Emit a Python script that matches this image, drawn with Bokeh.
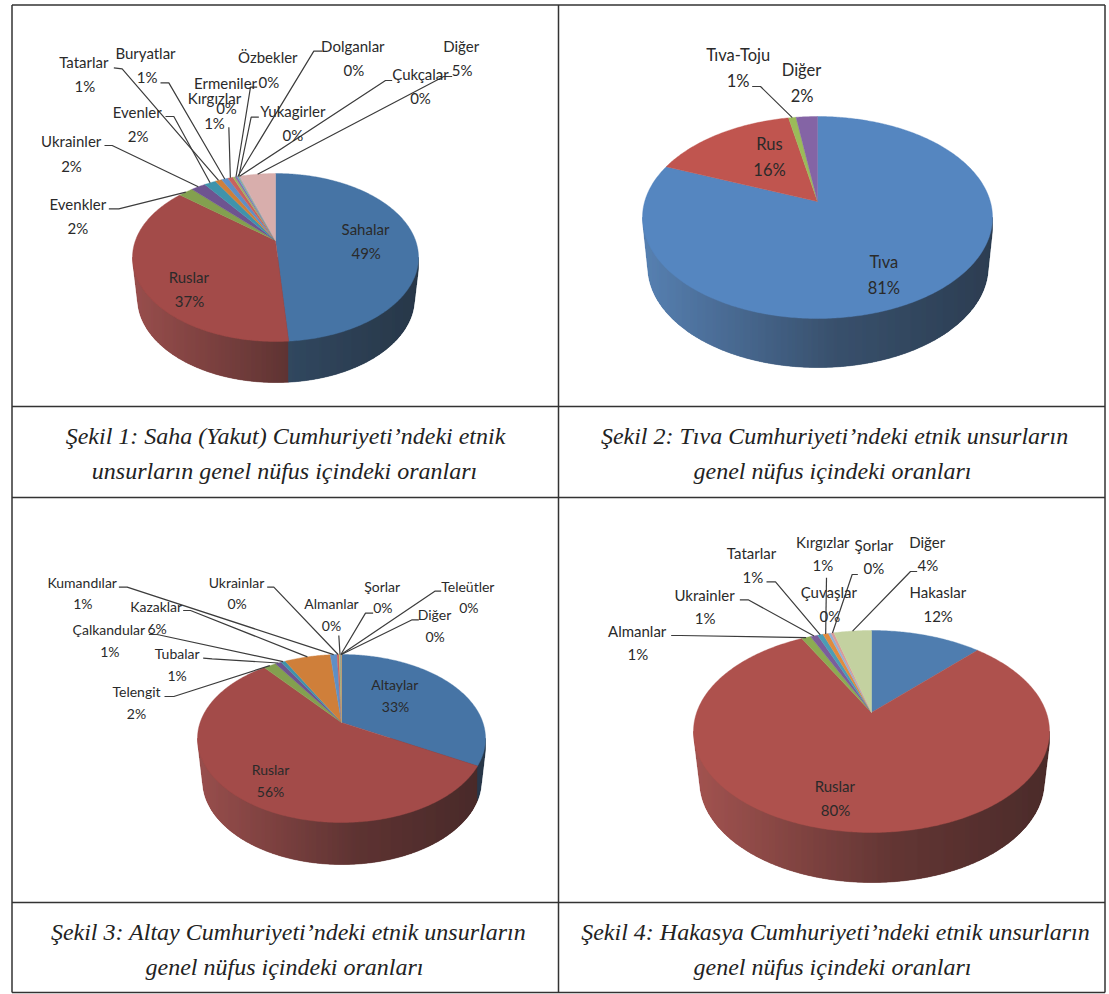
import math

import numpy as np
from bokeh.core.properties import value
from bokeh.embed import file_html
from bokeh.models import ColumnDataSource, Range1d
from bokeh.plotting import figure
from bokeh.resources import INLINE

# Population shares (percent), clockwise from twelve o'clock.
SAHA_NAMES = ["Sahalar", "Ruslar", "Evenkler", "Ukrainler", "Evenler", "Tatarlar", "Buryatlar",
              "Kırgızlar", "Ermeniler", "Özbekler", "Dolganlar", "Yukagirler", "Çukçalar", "Diğer"]
SAHA_VALUES = [48.8, 37.2, 2.0, 2.0, 1.6, 0.9, 0.9, 0.7, 0.3, 0.3, 0.2, 0.1, 0.1, 4.9]

TIVA_NAMES = ["Tıva", "Rus", "Tıva-Toju", "Diğer"]
TIVA_VALUES = [81.1, 15.8, 0.8, 2.3]

ALTAY_NAMES = ["Altaylar", "Ruslar", "Telengit", "Tubalar", "Çalkandular", "Kazaklar", "Kumandılar",
               "Ukrainlar", "Almanlar", "Şorlar", "Teleütler", "Diğer"]
ALTAY_VALUES = [33.1, 56.1, 1.7, 0.8, 0.6, 6.2, 0.9, 0.3, 0.2, 0.04, 0.03, 0.03]

HAKAS_NAMES = ["Hakaslar", "Ruslar", "Almanlar", "Ukrainler", "Tatarlar", "Kırgızlar", "Çuvaşlar",
               "Şorlar", "Diğer"]
HAKAS_VALUES = [12.1, 80.2, 1.0, 0.8, 0.6, 0.6, 0.3, 0.3, 4.1]

CAPTIONS = [
    ["Şekil 1: Saha (Yakut) Cumhuriyeti’ndeki etnik", "unsurların genel nüfus içindeki oranları"],
    ["Şekil 2: Tıva Cumhuriyeti’ndeki etnik unsurların", "genel nüfus içindeki oranları"],
    ["Şekil 3: Altay Cumhuriyeti’ndeki etnik unsurların", "genel nüfus içindeki oranları"],
    ["Şekil 4: Hakasya Cumhuriyeti’ndeki etnik unsurların", "genel nüfus içindeki oranları"],
]

# Slice colours for each pie.
SAHA_COLORS = ["#4674a5", "#a34b49", "#83a04f", "#6e5490", "#3f93ab", "#cf7f3a", "#5f8fc6",
               "#c9625e", "#9db85f", "#8a72ab", "#5aaec6", "#e09a55", "#8fb0d8", "#d8aeac"]
TIVA_COLORS = ["#5586c0", "#c0554f", "#9bbb59", "#8464a5"]
ALTAY_COLORS = ["#4674a5", "#a34b49", "#83a04f", "#6e5490", "#3f93ab", "#cf7f3a", "#5f8fc6",
                "#c9625e", "#b5cc5f", "#8a72ab", "#5aaec6", "#e09a55"]
HAKAS_COLORS = ["#4f7daf", "#ae514d", "#8cab52", "#7b5d9b", "#4a9db5", "#e08b3e", "#8fb0d8",
                "#d99a98", "#c3d1a0"]

# Tilted-disc geometry of each pie, in page pixels.
DISCS = {
    "saha":  dict(cx=275, cy=240, top=173, bottom=341, half=143, depth=41, squeeze=0.965),
    "tiva":  dict(cx=817, cy=201, top=116, bottom=318, half=175, depth=49, squeeze=0.97),
    "altay": dict(cx=341, cy=722, top=654, bottom=822, half=144, depth=42, squeeze=0.965),
    "hakas": dict(cx=871, cy=712, top=630, bottom=832, half=178, depth=50, squeeze=0.965),
}

# Label layout, in thirds of a pixel from each panel's origin:
# slice index -> (name x, name y, percent x, percent y, leader knee points or None).
SAHA_ORIGIN = (20, 20)
SAHA_LAYOUT = {
    0: (1035, 625, 1037, 698, None),
    1: (505, 768, 507, 840, None),
    2: (172, 550, 172, 622, [(265, 565), (295, 565)]),
    3: (152, 360, 153, 435, [(252, 375), (275, 375)]),
    4: (350, 275, 353, 347, [(435, 288), (460, 288)]),
    5: (190, 125, 193, 197, [(280, 142), (305, 145)]),
    6: (375, 97, 380, 170, [(420, 187), (445, 187)]),
    7: (582, 232, 582, 307, [(625, 320)]),
    8: (615, 187, 618, 262, None),
    9: (742, 110, 745, 183, [(710, 200), (690, 200)]),
    10: (997, 75, 1000, 148, [(905, 92), (880, 92)]),
    11: (817, 270, 817, 343, [(715, 290), (692, 290)]),
    12: (1200, 160, 1200, 233, [(1115, 180), (1095, 180)]),
    13: (1322, 75, 1325, 148, [(1295, 168), (1270, 168)]),
}

TIVA_ORIGIN = (620, 30)
TIVA_LAYOUT = {
    0: (790, 695, 790, 772, None),
    1: (447, 340, 447, 418, None),
    2: (353, 72, 353, 150, [(395, 168), (420, 168)]),
    3: (543, 118, 545, 197, None),
}

ALTAY_ORIGIN = (20, 560)
ALTAY_LAYOUT = {
    0: (1123, 373, 1125, 437, None),
    1: (750, 628, 750, 693, None),
    2: (348, 393, 348, 458, [(432, 408), (460, 408)]),
    3: (470, 280, 470, 345, [(548, 293), (575, 295)]),
    4: (265, 208, 268, 272, [(385, 222), (410, 222)]),
    5: (407, 138, 410, 205, [(488, 150), (510, 150)]),
    6: (185, 65, 187, 130, [(295, 80), (320, 80)]),
    7: (648, 65, 650, 130, [(740, 80), (760, 80)]),
    8: (933, 130, 933, 195, [(955, 225)]),
    9: (1085, 78, 1087, 142, [(1058, 158), (1035, 158)]),
    10: (1342, 78, 1345, 142, [(1262, 92), (1243, 92)]),
    11: (1242, 163, 1244, 228, [(1195, 178), (1175, 178)]),
}

HAKAS_ORIGIN = (580, 520)
HAKAS_LAYOUT = {
    0: (1072, 213, 1073, 285, None),
    1: (763, 797, 765, 867, None),
    2: (170, 330, 172, 400, [(272, 345), (300, 345)]),
    3: (372, 223, 374, 293, [(478, 238), (503, 238)]),
    4: (513, 98, 517, 170, [(558, 184), (585, 184)]),
    5: (727, 63, 727, 133, [(738, 172)]),
    6: (745, 213, 748, 285, None),
    7: (880, 73, 880, 143, [(832, 162), (815, 162)]),
    8: (1040, 63, 1042, 133, [(1010, 153), (990, 153)]),
}

# Table rules and caption positions, in page pixels: each caption has (line 1 x, line 2 x, y).
RULE_X = [11.5, 558, 1104.5]
RULE_Y = [4.5, 406, 497, 902, 992]
CAPTION_CENTERS = [(285, 284, 435), (834, 832, 435), (288, 284, 931), (835, 832, 931)]
CAPTION_LEADING = 35

# Brightness of the side wall from its left edge to its right edge.
WALL_STOPS = [0.0, 0.55, 1.0]
WALL_SHADE = [0.90, 0.52, 0.37]

LABEL_FONT = "Lato"
LABEL_COLOR = "#2a2a2a"
CAPTION_FONT = "Liberation Serif"
CAPTION_SIZE = "24px"


def disc_projection(disc):
    """Perspective view of the pie's top face; theta runs clockwise from twelve o'clock."""
    back = disc["cy"] - disc["top"]
    front = disc["bottom"] - disc["cy"]
    k = (front - back) / (front + back)
    a = 2 * back * front / (front + back)
    r = disc["half"] * math.sqrt(1 - k * k)

    def project(theta):
        theta = np.asarray(theta, dtype=float)
        w = 1 + k * np.cos(theta)
        return disc["cx"] + r * np.sin(theta) / w, disc["cy"] - a * np.cos(theta) / w

    return project


def shaded(color, factor):
    r, g, b = (int(color[i:i + 2], 16) for i in (1, 3, 5))
    return f"#{int(r * factor):02x}{int(g * factor):02x}{int(b * factor):02x}"


def draw_wall(p, disc, project, edges, colors):
    """Side wall as vertical columns, each tinted by its horizontal position."""
    thetas = np.linspace(0, 2 * math.pi, 2881)
    tx, ty = project(thetas)
    right, left = int(np.argmax(tx)), int(np.argmin(tx))
    rim_theta = thetas[right:left + 1]
    rim_x = tx[right:left + 1]
    rim_y = ty[right:left + 1]

    # Lower outline of the wall: the lowest point reached at each column boundary.
    sweep = np.linspace(0, 1, 41)
    low_x = disc["cx"] + (rim_x - disc["cx"]) * (1 - (1 - disc["squeeze"]) * sweep[:, None])
    low_y = rim_y + disc["depth"] * sweep[:, None]
    x_min, x_max = float(rim_x.min()), float(rim_x.max())
    columns = np.arange(math.ceil(x_min), math.floor(x_max) + 1, dtype=float)
    columns = np.concatenate(([x_min], columns, [x_max]))
    floor = np.full(len(columns), -np.inf)
    bins = np.searchsorted(columns, low_x.ravel())
    bins = np.clip(bins, 0, len(columns) - 1)
    np.maximum.at(floor, bins, low_y.ravel())
    seen = np.isfinite(floor)
    floor = np.interp(columns, columns[seen], floor[seen])

    mid_y = (disc["top"] + disc["bottom"]) / 2
    width = x_max - x_min
    xs, ys, fills = [], [], []
    for i in range(len(columns) - 1):
        a, b = float(columns[i]), float(columns[i + 1])
        centre = (a + b) / 2
        theta = float(np.interp(centre, rim_x[::-1], rim_theta[::-1]))
        idx = min(int(np.searchsorted(edges, theta, side="right")) - 1, len(colors) - 1)
        fills.append(shaded(colors[idx], float(np.interp((centre - x_min) / width, WALL_STOPS, WALL_SHADE))))
        xs.append([a, b, b, a])
        ys.append([mid_y, mid_y, float(floor[i + 1]), float(floor[i])])
    p.patches(xs, ys, fill_color=fills, line_color=fills, line_width=0.5)


def draw_pie(p, disc, names, values, colors, origin, layout, label_size):
    project = disc_projection(disc)
    edges = np.cumsum([0.0] + list(values)) / sum(values) * 2 * math.pi

    draw_wall(p, disc, project, edges, colors)

    # Top face.
    xs, ys = [], []
    for start, stop in zip(edges[:-1], edges[1:]):
        arc = np.linspace(start, stop, max(3, int((stop - start) * 90)))
        ax, ay = project(arc)
        xs.append([disc["cx"], *ax.tolist()])
        ys.append([disc["cy"], *ay.tolist()])
    p.patches(xs, ys, fill_color=colors, line_color=colors, line_width=0.4)

    # Leader lines run from the label's knee to the middle of the slice's rim.
    ox, oy = origin
    lead_x, lead_y = [], []
    text_x, text_y, text = [], [], []
    for i, name in enumerate(names):
        nx, ny, vx, vy, knee = layout[i]
        text_x += [ox + nx / 3, ox + vx / 3]
        text_y += [oy + ny / 3, oy + vy / 3]
        text += [name, f"{round(values[i])}%"]
        if knee:
            ex, ey = project((edges[i] + edges[i + 1]) / 2)
            lead_x.append([ox + kx / 3 for kx, _ in knee] + [float(ex)])
            lead_y.append([oy + ky / 3 for _, ky in knee] + [float(ey)])
    if lead_x:
        p.multi_line(lead_x, lead_y, line_color="#3c3c3c", line_width=1.2)
    source = ColumnDataSource(dict(x=text_x, y=text_y, text=text))
    p.text("x", "y", text="text", source=source, text_align="center", text_baseline="middle",
           text_font=value(LABEL_FONT), text_font_size=value(label_size), text_color=LABEL_COLOR)


p = figure(width=1109, height=994, output_backend="svg", toolbar_location=None,
           x_range=Range1d(0, 1109), y_range=Range1d(994, 0), min_border=0,
           background_fill_color="white", border_fill_color="white", outline_line_color=None)
p.axis.visible = False
p.grid.visible = False

draw_pie(p, DISCS["saha"], SAHA_NAMES, SAHA_VALUES, SAHA_COLORS, SAHA_ORIGIN, SAHA_LAYOUT, "15px")
draw_pie(p, DISCS["tiva"], TIVA_NAMES, TIVA_VALUES, TIVA_COLORS, TIVA_ORIGIN, TIVA_LAYOUT, "16.5px")
draw_pie(p, DISCS["altay"], ALTAY_NAMES, ALTAY_VALUES, ALTAY_COLORS, ALTAY_ORIGIN, ALTAY_LAYOUT, "14px")
draw_pie(p, DISCS["hakas"], HAKAS_NAMES, HAKAS_VALUES, HAKAS_COLORS, HAKAS_ORIGIN, HAKAS_LAYOUT, "15px")

# Table frame.
rule_xs = [[x, x] for x in RULE_X] + [[RULE_X[0], RULE_X[-1]] for _ in RULE_Y]
rule_ys = [[RULE_Y[0], RULE_Y[-1]] for _ in RULE_X] + [[y, y] for y in RULE_Y]
p.multi_line(rule_xs, rule_ys, line_color="#333333", line_width=1.5)

# Captions under each pie.
cap_x, cap_y, cap_text = [], [], []
for (x1, x2, cy), lines in zip(CAPTION_CENTERS, CAPTIONS):
    for n, (cx, line) in enumerate(zip((x1, x2), lines)):
        cap_x.append(cx)
        cap_y.append(cy + n * CAPTION_LEADING)
        cap_text.append(line)
p.text(cap_x, cap_y, text=cap_text, text_align="center", text_baseline="middle",
       text_font=value(CAPTION_FONT), text_font_style="italic", text_font_size=value(CAPTION_SIZE),
       text_color="#222222")

open("out.html", "w").write(file_html(p, INLINE))
